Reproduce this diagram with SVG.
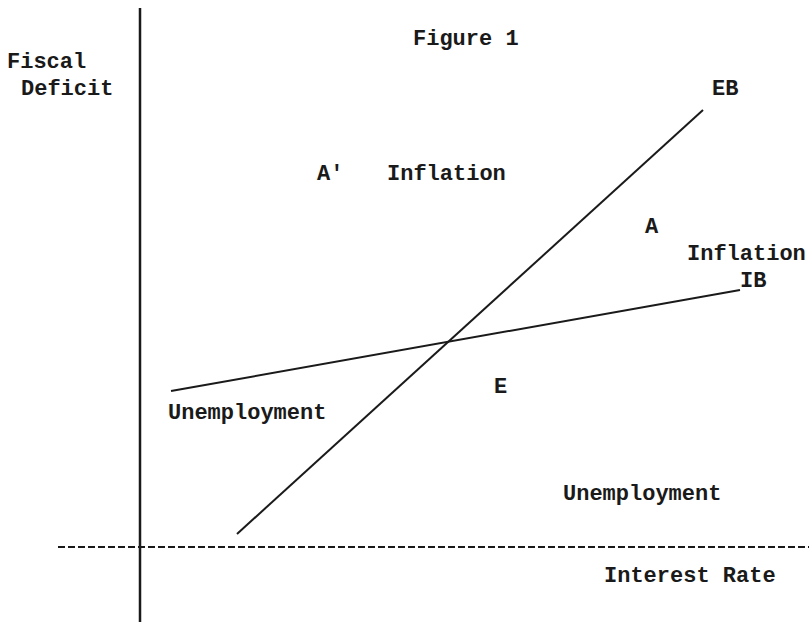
<svg xmlns="http://www.w3.org/2000/svg" width="809" height="622" viewBox="0 0 809 622">
<style>
.t{font-family:"Liberation Mono","Courier New",monospace;font-size:22px;font-weight:bold;fill:#1a1a1a}
.ln{stroke:#1a1a1a;fill:none}
</style>
<rect width="809" height="622" fill="#ffffff"/>
<g id="axes">
<line class="ln" x1="140" y1="8" x2="140" y2="622" stroke-width="2.5"/>
<line class="ln" x1="58" y1="547" x2="809" y2="547" stroke-width="2" stroke-dasharray="7,3"/>
</g>
<g id="connectors">
<line id="EB-line" class="ln" x1="237" y1="534" x2="703" y2="110" stroke-width="2"/>
<line id="IB-line" class="ln" x1="171" y1="391" x2="740" y2="290" stroke-width="2"/>
</g>
<g id="title"><text class="t" x="413" y="45">Figure 1</text></g>
<g id="y-label"><text class="t" x="7" y="68">Fiscal</text><text class="t" x="21" y="95">Deficit</text></g>
<g id="x-label"><text class="t" x="604" y="582">Interest Rate</text></g>
<g id="EB"><text class="t" x="712" y="95">EB</text></g>
<g id="IB"><text class="t" x="740" y="287">IB</text></g>
<g id="A-prime"><text class="t" x="317" y="180">A'</text></g>
<g id="inflation-left"><text class="t" x="387" y="180">Inflation</text></g>
<g id="A"><text class="t" x="645" y="233">A</text></g>
<g id="inflation-right"><text class="t" x="687" y="260">Inflation</text></g>
<g id="unemployment-left"><text class="t" x="168" y="419">Unemployment</text></g>
<g id="E"><text class="t" x="494" y="393">E</text></g>
<g id="unemployment-right"><text class="t" x="563" y="500">Unemployment</text></g>
</svg>
